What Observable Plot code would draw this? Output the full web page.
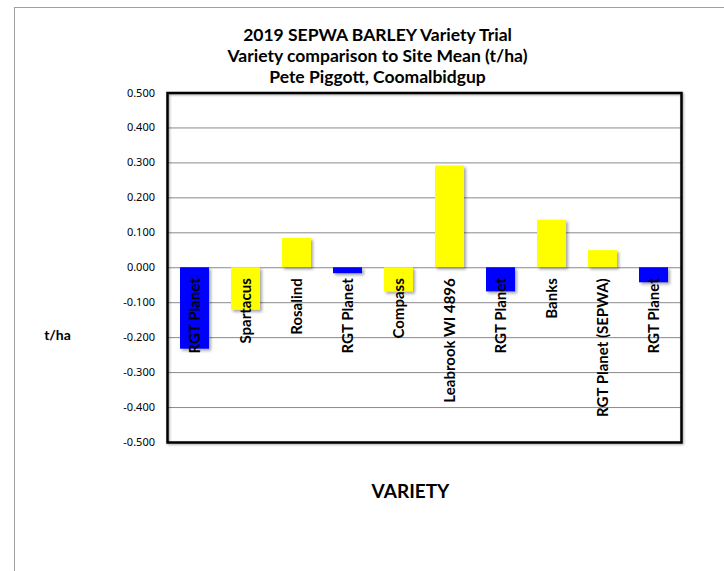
<!DOCTYPE html>
<html><head><meta charset="utf-8">
<script src="https://cdn.jsdelivr.net/npm/d3@7"></script>
<script src="https://cdn.jsdelivr.net/npm/@observablehq/plot@0.6"></script>
<style>
html,body{margin:0;padding:0;background:#fff;overflow:hidden;}
#wrap{position:relative;width:724px;height:571px;overflow:hidden;}
#border{position:absolute;left:14px;top:7px;width:800px;height:700px;border:1.5px solid #a0a0a0;box-sizing:border-box;}
#chart{position:absolute;left:0;top:0;}
</style></head><body>
<div id="wrap"><div id="border"></div><div id="chart"></div></div>
<script>
const titleLines = [
  "2019 SEPWA BARLEY Variety Trial",
  "Variety comparison to Site Mean (t/ha)",
  "Pete Piggott, Coomalbidgup"
];
const varieties = ["RGT Planet", "Spartacus", "Rosalind", "RGT Planet", "Compass",
  "Leabrook WI 4896", "RGT Planet", "Banks", "RGT Planet (SEPWA)", "RGT Planet"];
const values = [-0.233, -0.122, 0.084, -0.017, -0.070, 0.291, -0.069, 0.136, 0.049, -0.043];
const yTicks = [0.5, 0.4, 0.3, 0.2, 0.1, 0, -0.1, -0.2, -0.3, -0.4, -0.5];
const xLabel = "VARIETY";
const yLabel = "t/ha";

const data = varieties.map((name, i) => ({
  i, name, value: values[i], group: name === "RGT Planet" ? "RGT Planet" : "Other"
}));

const chart = Plot.plot({
  width: 724,
  height: 571,
  marginLeft: 167,
  marginRight: 43,
  marginTop: 92.5,
  marginBottom: 129,
  style: {fontFamily: "Lato, 'Liberation Sans', sans-serif", color: "#000", background: "transparent"},
  x: {type: "band", domain: d3.range(varieties.length), paddingInner: 0.436, paddingOuter: 0.218, axis: null},
  y: {domain: [-0.5, 0.5], axis: null},
  color: {domain: ["RGT Planet", "Other"], range: ["#0000ff", "#ffff00"]},
  marks: [
    Plot.ruleY(yTicks, {stroke: "#8a8a8a", strokeWidth: 1}),
    Plot.barY(data, {x: "i", y: "value", fill: "group"}),
    Plot.text(data, {x: "i", y: 0, text: "name", rotate: -90, textAnchor: "end", lineAnchor: "middle",
      dy: 10.5, fontWeight: "bold", fontSize: 15, fill: "#000"}),
    Plot.frame({stroke: "#000", strokeWidth: 2.5}),
    Plot.axisY(yTicks, {label: null, tickSize: 0, tickPadding: 12.5, tickFormat: d => d.toFixed(3),
      fontSize: 11, fill: "#000"}),
    Plot.text([titleLines.join("\n")], {text: d => d, frameAnchor: "top", dx: -47, dy: -67,
      lineAnchor: "top", lineHeight: 1.2, fontSize: 17.5, fontWeight: "bold", fill: "#000"}),
    Plot.text([xLabel], {text: d => d, frameAnchor: "bottom", dx: -14, dy: 55,
      lineAnchor: "bottom", fontSize: 19, fontWeight: "bold", fill: "#000"}),
    Plot.text([yLabel], {text: d => d, frameAnchor: "left", dx: -110, dy: 71.75,
      lineAnchor: "bottom", textAnchor: "middle", fontSize: 14, fontWeight: "bold", fill: "#000"})
  ]
});

chart.querySelectorAll('[aria-label="bar"]').forEach(g => {
  g.style.filter = "drop-shadow(2px 2px 1.5px rgba(0,0,0,0.35))";
});
chart.querySelectorAll('[aria-label="frame"]').forEach(g => {
  g.style.filter = "drop-shadow(1.5px 1.5px 1px rgba(0,0,0,0.35))";
});
chart.querySelectorAll('[aria-label="y-axis tick label"]').forEach(g => {
  g.style.fontFamily = "'Noto Sans', 'Open Sans', sans-serif";
  g.style.fontWeight = "400";
  g.style.fontSize = "11px";
});

document.getElementById("chart").appendChild(chart);
</script>
</body></html>
